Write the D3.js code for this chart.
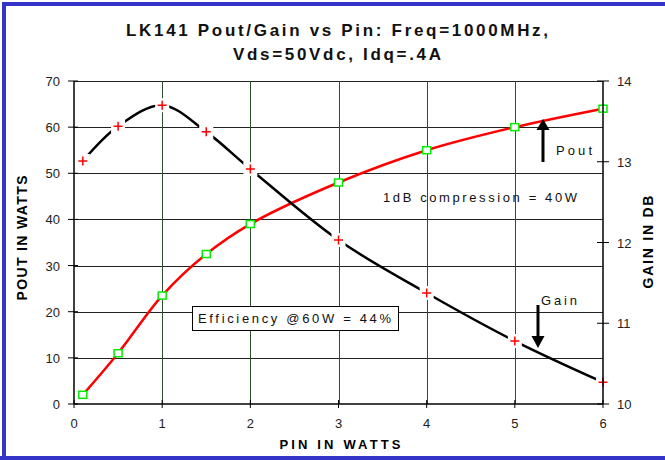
<!DOCTYPE html>
<html><head><meta charset="utf-8">
<script src="https://cdn.jsdelivr.net/npm/d3@7"></script>
<style>
body{margin:0;background:#fff;}
text{font-family:Arial,"Liberation Sans",sans-serif;}
</style></head>
<body><svg id="c" width="665" height="460"></svg>
<script>
const pin = [0.1, 0.5, 1, 1.5, 2, 3, 4, 5, 6];
const pout = [2, 11, 23.5, 32.5, 39, 48, 55, 60, 64];
const gain = [13.01, 13.44, 13.70, 13.37, 12.91, 12.03, 11.375, 10.78, 10.27];
const xTicks = [0, 1, 2, 3, 4, 5, 6];
const yLeftTicks = [0, 10, 20, 30, 40, 50, 60, 70];
const yRightTicks = [10, 11, 12, 13, 14];
const titleLines = ["LK141 Pout/Gain vs Pin: Freq=1000MHz,", "Vds=50Vdc, Idq=.4A"];

const svg = d3.select("#c");
const L = 74, R = 603, T = 81, B = 404;
const x = d3.scaleLinear().domain([0, 6]).range([L, R]);
const yL = d3.scaleLinear().domain([0, 70]).range([B, T]);
const yR = d3.scaleLinear().domain([10, 14]).range([B, T]);

svg.append("rect").attr("width", 665).attr("height", 460).attr("fill", "#fff");
// blue frame
svg.append("path").attr("d", "M4,460V4H665").attr("fill", "none").attr("stroke", "#3434c8").attr("stroke-width", 4);
svg.append("line").attr("x1", 0).attr("x2", 665).attr("y1", 458).attr("y2", 458).attr("stroke", "#3434c8").attr("stroke-width", 4);

// title
titleLines.forEach((t, i) => {
  svg.append("text").attr("x", 337).attr("y", 36 + i * 24).attr("text-anchor", "middle")
    .attr("font-size", 17).attr("font-weight", "bold").attr("fill", "#111")
    .attr("textLength", i === 0 ? 422 : 208).attr("lengthAdjust", "spacing").text(t);
});

// grid
const g = svg.append("g");
g.selectAll(".hg").data(yLeftTicks.filter(d => d > 0)).join("line")
  .attr("x1", L).attr("x2", R).attr("y1", d => Math.round(yL(d)) + 0.5).attr("y2", d => Math.round(yL(d)) + 0.5)
  .attr("stroke", "#222").attr("stroke-width", 1);
g.selectAll(".vg").data(xTicks.filter(d => d > 0 && d < 6)).join("line")
  .attr("y1", T).attr("y2", B).attr("x1", d => Math.round(x(d)) + 0.5).attr("x2", d => Math.round(x(d)) + 0.5)
  .attr("stroke", "#2f4f2f").attr("stroke-width", 1);

const pts = pin.map((p, i) => ({p, o: pout[i], g: gain[i]}));
const curve = d3.curveCatmullRom.alpha(0.5);
svg.append("path").datum(pts).attr("fill", "none").attr("stroke", "#ff0000").attr("stroke-width", 2.5)
  .attr("d", d3.line().x(d => x(d.p)).y(d => yL(d.o)).curve(curve));
svg.append("path").datum(pts).attr("fill", "none").attr("stroke", "#000").attr("stroke-width", 2.5)
  .attr("d", d3.line().x(d => x(d.p)).y(d => yR(d.g)).curve(curve));

// halos + plus markers
svg.selectAll(".halo").data(pts).join("rect")
  .attr("x", d => x(d.p) - 7).attr("y", d => yR(d.g) - 7).attr("width", 14).attr("height", 14).attr("fill", "#fff");
svg.selectAll(".plus").data(pts).join("path")
  .attr("d", d => { const cx = x(d.p), cy = yR(d.g); return `M${cx-4.5},${cy}H${cx+4.5}M${cx},${cy-4.5}V${cy+4.5}`; })
  .attr("stroke", "#ff0000").attr("stroke-width", 1.5).attr("fill", "none");
// square markers
svg.selectAll(".sq").data(pts).join("rect")
  .attr("x", d => x(d.p) - 4).attr("y", d => yL(d.o) - 3.5).attr("width", 8).attr("height", 7)
  .attr("fill", "#fff").attr("stroke", "#00ee00").attr("stroke-width", 1.5);

// axes
const tk = 6;
const ax = svg.append("g").attr("stroke", "#000");
ax.append("line").attr("x1", L).attr("x2", L).attr("y1", T).attr("y2", B).attr("stroke-width", 1.5);
ax.append("line").attr("x1", R).attr("x2", R).attr("y1", T).attr("y2", B).attr("stroke-width", 1.5);
ax.append("line").attr("x1", L).attr("x2", R).attr("y1", B).attr("y2", B).attr("stroke-width", 1.5);
ax.selectAll(".lt").data(yLeftTicks).join("line").attr("x1", L - tk).attr("x2", L + 4)
  .attr("y1", d => yL(d)).attr("y2", d => yL(d)).attr("stroke-width", 1);
ax.selectAll(".rt").data(yRightTicks).join("line").attr("x1", R - tk).attr("x2", R + tk)
  .attr("y1", d => yR(d)).attr("y2", d => yR(d)).attr("stroke-width", 1);
ax.selectAll(".bt").data(xTicks).join("line").attr("y1", B - 4).attr("y2", B + 4)
  .attr("x1", d => x(d)).attr("x2", d => x(d)).attr("stroke-width", 1);

svg.selectAll(".ll").data(yLeftTicks).join("text").attr("x", 60).attr("y", d => yL(d) + 5)
  .attr("text-anchor", "end").attr("font-size", 13).attr("fill", "#222").text(d => d);
svg.selectAll(".rl").data(yRightTicks).join("text").attr("x", 617).attr("y", d => yR(d) + 5)
  .attr("text-anchor", "start").attr("font-size", 13).attr("fill", "#222").text(d => d);
svg.selectAll(".bl").data(xTicks).join("text").attr("x", d => x(d)).attr("y", 428)
  .attr("text-anchor", "middle").attr("font-size", 13).attr("fill", "#222").text(d => d);

// axis titles
svg.append("text").attr("x", 340).attr("y", 449).attr("text-anchor", "middle").attr("font-size", 13)
  .attr("font-weight", "bold").attr("textLength", 121).attr("lengthAdjust", "spacing").text("PIN IN WATTS");
svg.append("text").attr("transform", "translate(27,238) rotate(-90)").attr("text-anchor", "middle")
  .attr("font-size", 14).attr("font-weight", "bold").attr("textLength", 125).attr("lengthAdjust", "spacing").text("POUT IN WATTS");
svg.append("text").attr("transform", "translate(653,242) rotate(-90)").attr("text-anchor", "middle")
  .attr("font-size", 14).attr("font-weight", "bold").attr("textLength", 93).attr("lengthAdjust", "spacing").text("GAIN IN DB");

// annotations
svg.append("text").attr("x", 383).attr("y", 202).attr("font-size", 13).attr("fill", "#111")
  .attr("textLength", 194).attr("lengthAdjust", "spacing").text("1dB compression = 40W");
svg.append("text").attr("x", 556).attr("y", 155).attr("font-size", 13).attr("fill", "#111")
  .attr("textLength", 36).attr("lengthAdjust", "spacing").text("Pout");
svg.append("text").attr("x", 541).attr("y", 305).attr("font-size", 13).attr("fill", "#111")
  .attr("textLength", 36).attr("lengthAdjust", "spacing").text("Gain");
svg.append("rect").attr("x", 192.5).attr("y", 306.5).attr("width", 206).attr("height", 24)
  .attr("fill", "#fff").attr("stroke", "#000").attr("stroke-width", 1);
svg.append("text").attr("x", 198).attr("y", 323).attr("font-size", 13).attr("fill", "#111")
  .attr("textLength", 193).attr("lengthAdjust", "spacing").text("Efficiency @60W = 44%");
// arrows
svg.append("line").attr("x1", 543).attr("x2", 543).attr("y1", 162).attr("y2", 128).attr("stroke", "#000").attr("stroke-width", 3);
svg.append("path").attr("d", "M543,119L549.5,130H536.5Z").attr("fill", "#000");
svg.append("line").attr("x1", 538).attr("x2", 538).attr("y1", 305).attr("y2", 338).attr("stroke", "#000").attr("stroke-width", 3);
svg.append("path").attr("d", "M538,348L531.5,336H544.5Z").attr("fill", "#000");
</script></body></html>
